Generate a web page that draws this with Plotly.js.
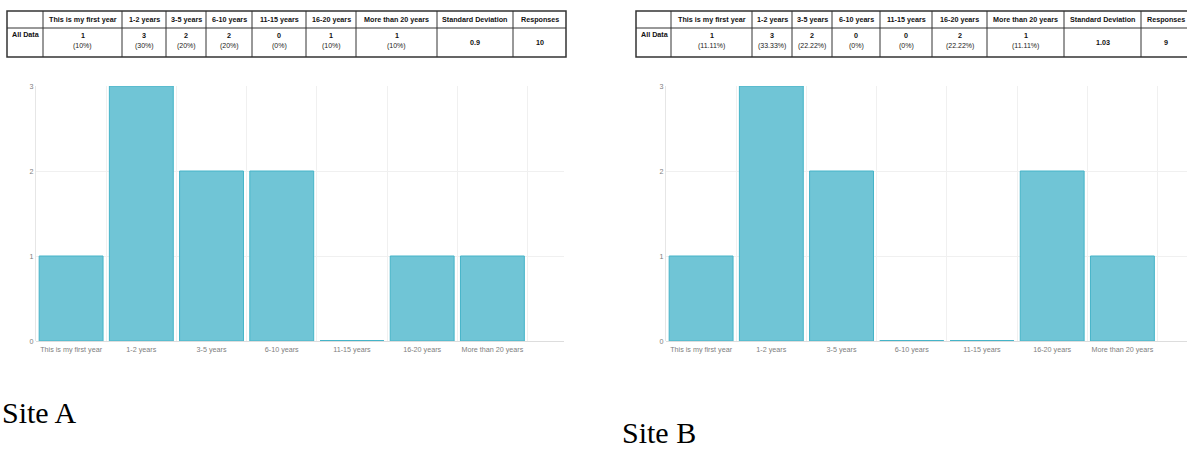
<!DOCTYPE html>
<html>
<head>
<meta charset="utf-8">
<script src="https://cdn.plot.ly/plotly-3.0.1.min.js"></script>
<style>
  html, body { margin: 0; padding: 0; background: #ffffff; }
  #chart { width: 1187px; height: 455px; }
</style>
</head>
<body>
<div id="chart"></div>
<script>
// ---- Data ----
const categories = ["This is my first year", "1-2 years", "3-5 years", "6-10 years", "11-15 years", "16-20 years", "More than 20 years"];
const siteACounts = [1, 3, 2, 2, 0, 1, 1];
const siteAPercents = ["10%", "30%", "20%", "20%", "0%", "10%", "10%"];
const siteAStdDev = "0.9";
const siteAResponses = "10";
const siteBCounts = [1, 3, 2, 0, 0, 2, 1];
const siteBPercents = ["11.11%", "33.33%", "22.22%", "0%", "0%", "22.22%", "11.11%"];
const siteBStdDev = "1.03";
const siteBResponses = "9";
const rowLabel = "All Data";
const extraHeaders = ["Standard Deviation", "Responses"];
const yTicks = [0, 1, 2, 3];
const siteLabels = ["Site A", "Site B"];

// ---- Layout helpers (positions only) ----
const W = 1187, H = 455;
const px = x => x / W;
const py = y => 1 - y / H;

const fill = "#70c5d6";
const edge = "#45b4c8";
const tickFont = { family: "Liberation Sans, Arial, sans-serif", size: 7.2, color: "#808080" };
const tblFamily = "Liberation Sans, Arial, sans-serif";

// table grid geometry (pixels)
const tableRows = { top: 11, mid: 28, bottom: 57 };
const colsA = [7, 43, 122, 166, 206, 252, 306, 356, 437, 513, 566];
const colsB = [636, 671, 752, 792, 832, 880, 932, 987, 1064, 1141, 1191];

function tableParts(cols, counts, percents, sd, resp) {
  const shapes = [];
  const ann = [];
  const lineStyle = { color: "#333333", width: 1 };
  shapes.push({ type: "rect", xref: "paper", yref: "paper", x0: px(cols[0]), x1: px(cols[cols.length - 1]),
    y0: py(tableRows.bottom), y1: py(tableRows.top), line: { color: "#333333", width: 1.5 } });
  shapes.push({ type: "line", xref: "paper", yref: "paper", x0: px(cols[0]), x1: px(cols[cols.length - 1]),
    y0: py(tableRows.mid), y1: py(tableRows.mid), line: lineStyle });
  for (let i = 1; i < cols.length - 1; i++) {
    shapes.push({ type: "line", xref: "paper", yref: "paper", x0: px(cols[i]), x1: px(cols[i]),
      y0: py(tableRows.bottom), y1: py(tableRows.top), line: lineStyle });
  }
  const headers = categories.concat(extraHeaders);
  const t = (text, x, y, opts) => Object.assign({
    text: text, xref: "paper", yref: "paper", x: px(x), y: py(y), showarrow: false,
    xanchor: "center", yanchor: "middle", font: { family: tblFamily, size: 7.2, color: "#111111" }
  }, opts || {});
  headers.forEach((h, i) => {
    const cx = (cols[i + 1] + cols[i + 2]) / 2;
    ann.push(t("<b>" + h + "</b>", cx, (tableRows.top + tableRows.mid) / 2 + 0.5));
  });
  ann.push(t("<b>" + rowLabel + "</b>", cols[0] + 3, tableRows.mid + 6.5, { xanchor: "left" }));
  counts.forEach((c, i) => {
    const cx = (cols[i + 1] + cols[i + 2]) / 2;
    ann.push(t("<b>" + c + "</b>", cx, tableRows.mid + 7.5));
    ann.push(t("(" + percents[i] + ")", cx, tableRows.mid + 18.5, { font: { family: tblFamily, size: 7, color: "#222222" } }));
  });
  const n = counts.length;
  ann.push(t("<b>" + sd + "</b>", (cols[n + 1] + cols[n + 2]) / 2, (tableRows.mid + tableRows.bottom) / 2));
  ann.push(t("<b>" + resp + "</b>", (cols[n + 2] + cols[n + 3]) / 2, (tableRows.mid + tableRows.bottom) / 2));
  return { shapes: shapes, ann: ann };
}

function barTrace(counts, xa, ya) {
  return {
    type: "bar",
    x: categories,
    y: counts,
    xaxis: xa,
    yaxis: ya,
    marker: { color: fill, line: { color: edge, width: 1 } },
    hoverinfo: "skip",
    showlegend: false
  };
}

function zeroShapes(counts, xref, yref) {
  const shapes = [];
  counts.forEach((c, i) => {
    if (c === 0) {
      shapes.push({ type: "line", xref: xref, yref: yref, x0: i - 0.455, x1: i + 0.455, y0: c, y1: c,
        line: { color: edge, width: 2 }, layer: "above" });
    }
  });
  return shapes;
}

function xAxis(domain, range) {
  return {
    domain: domain,
    type: "category",
    range: range,
    tickson: "boundaries",
    showgrid: true,
    gridcolor: "#f0f0f0",
    gridwidth: 1,
    ticks: "",
    tickangle: 0,
    ticklabelstandoff: 3,
    showline: false,
    zeroline: false,
    tickfont: tickFont,
    fixedrange: true
  };
}

function yAxis(domain, anchor) {
  return {
    domain: domain,
    anchor: anchor,
    range: [0, 3],
    tickvals: yTicks,
    showgrid: true,
    gridcolor: "#f0f0f0",
    zeroline: true,
    zerolinecolor: "#dddddd",
    showline: true,
    linecolor: "#e6e6e6",
    ticks: "",
    tickfont: tickFont,
    fixedrange: true
  };
}

const tA = tableParts(colsA, siteACounts, siteAPercents, siteAStdDev, siteAResponses);
const tB = tableParts(colsB, siteBCounts, siteBPercents, siteBStdDev, siteBResponses);

const data = [
  barTrace(siteACounts, "x", "y"),
  barTrace(siteBCounts, "x2", "y2")
];

const layout = {
  width: W,
  height: H,
  margin: { l: 0, r: 0, t: 0, b: 0 },
  paper_bgcolor: "#ffffff",
  plot_bgcolor: "#ffffff",
  bargap: 0.09,
  showlegend: false,
  xaxis: xAxis([px(36), px(564)], [-0.5, 7.02]),
  yaxis: yAxis([py(341), py(86)], "x"),
  xaxis2: xAxis([px(666), 1], [-0.5, 6.92]),
  yaxis2: yAxis([py(341), py(86)], "x2"),
  shapes: zeroShapes(siteACounts, "x", "y").concat(zeroShapes(siteBCounts, "x2", "y2"), tA.shapes, tB.shapes),
  annotations: tA.ann.concat(tB.ann, [
    { text: siteLabels[0], xref: "paper", yref: "paper", x: 0, y: py(412), xanchor: "left", yanchor: "middle",
      showarrow: false, font: { family: "Liberation Serif, Times New Roman, serif", size: 30, color: "#000" } },
    { text: siteLabels[1], xref: "paper", yref: "paper", x: px(620), y: py(432), xanchor: "left", yanchor: "middle",
      showarrow: false, font: { family: "Liberation Serif, Times New Roman, serif", size: 30, color: "#000" } }
  ])
};

Plotly.newPlot("chart", data, layout, { displayModeBar: false, staticPlot: true });
</script>
</body>
</html>
